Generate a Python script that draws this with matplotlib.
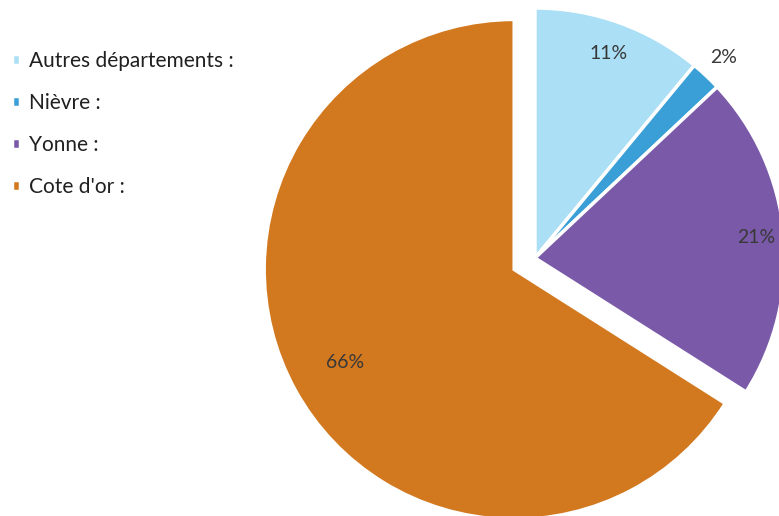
import numpy as np
import matplotlib.pyplot as plt

# data
labels = ['Autres départements :', 'Nièvre :', 'Yonne :', "Cote d'or :"]
shares = [11, 2, 21, 66]
colors = ['#aadff5', '#3a9fd6', '#7a5aa8', '#d2781f']
explode = [0, 0, 0, 0.095]
# how far out each percentage sits (fraction of radius)
label_dist = [0.87, 1.10, 0.89, 0.77]

plt.rcParams['font.family'] = ['Lato', 'DejaVu Sans']

fig = plt.figure(figsize=(7.79, 5.16), dpi=100)
ax = fig.add_axes([0, 0, 1, 1])

wedges, _ = ax.pie(shares, colors=colors, explode=explode, startangle=90,
                   counterclock=False, radius=1,
                   wedgeprops={'edgecolor': 'white', 'linewidth': 2.5})

# percentages
for w, s, d in zip(wedges, shares, label_dist):
    ang = np.deg2rad((w.theta1 + w.theta2) / 2)
    cx, cy = w.center
    ax.text(cx + d * np.cos(ang), cy + d * np.sin(ang), f'{s}%',
            ha='center', va='center', fontsize=14, color='#383838')

# 1 data unit = 250 px, pie centre at (535, 258) px from top-left
ax.set_aspect('auto')
ax.set_xlim(-535 / 250, (779 - 535) / 250)
ax.set_ylim(-(516 - 258) / 250, 258 / 250)
ax.axis('off')

leg = fig.legend(wedges, labels, loc='upper left', bbox_to_anchor=(0.015, 0.902),
                 frameon=False, fontsize=15, handlelength=0.42, handleheight=0.42,
                 handletextpad=0.4, labelspacing=1.06, borderaxespad=0,
                 borderpad=0)
for t in leg.get_texts():
    t.set_color('#202020')

fig.savefig('out.png', dpi=100)
